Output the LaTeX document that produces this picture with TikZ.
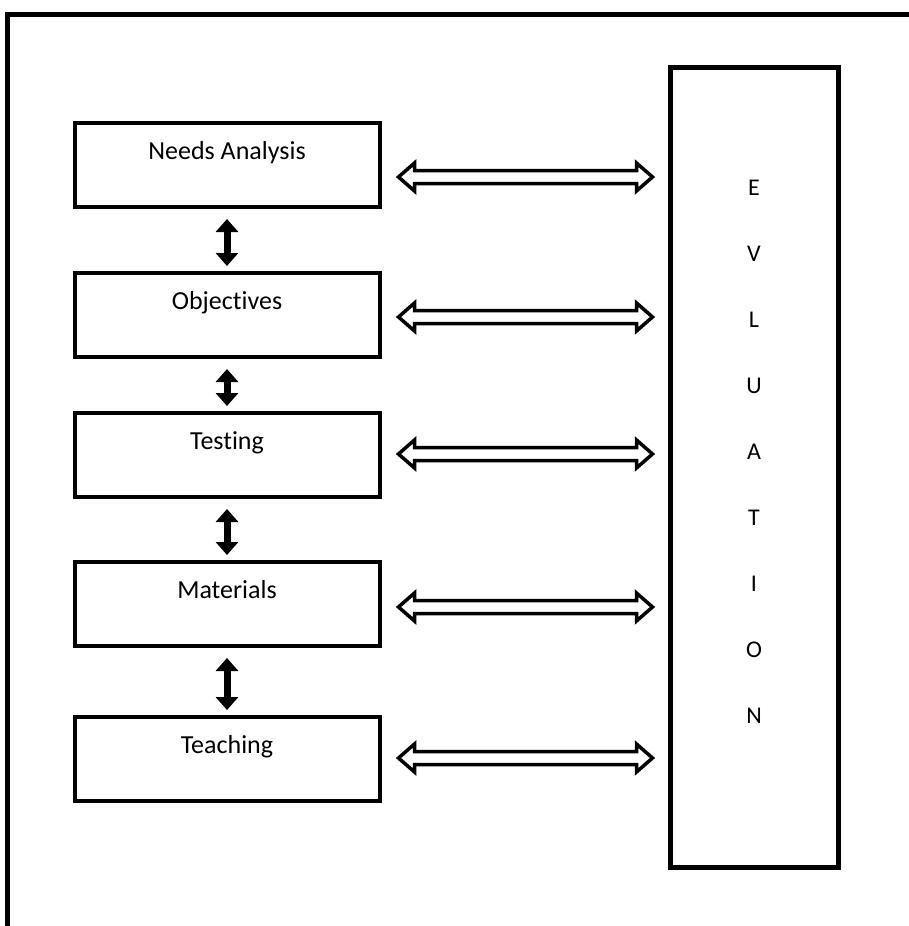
\documentclass[tikz,border=0pt]{standalone}
\usepackage{fontspec}
\setmainfont[Ligatures=NoCommon]{Carlito}
\usetikzlibrary{arrows.meta,calc}
\tikzset{
  stage/.style={draw, line width=4pt, minimum width=305pt, inner sep=0pt,
    text height=36pt, text depth=48pt, font=\fontsize{26}{30}\selectfont},
  evalbox/.style={draw, line width=5pt, minimum width=168pt, minimum height=800pt},
  letter/.style={font=\fontsize{24}{28}\selectfont},
  link/.style={line width=3.5pt, line join=miter},
  flow/.style={line width=7pt,
    {Triangle[width=22pt,length=13pt]}-{Triangle[width=22pt,length=13pt]},
    shorten <=10pt, shorten >=5pt},
}
\begin{document}
\begin{tikzpicture}[x=1pt, y=-1pt]
    \useasboundingbox (0,0) rectangle (909,926);
    \clip (0,0) rectangle (909,926);
    \draw [line width=5pt] (7,960) |- (960,14);
    \node [stage, anchor=base] (needs) at (227,159) {Needs Analysis};
    \node [stage, anchor=base] (obj) at (227,309) {Objectives};
    \node [stage, anchor=base] (test) at (227,449) {Testing};
    \node [stage, anchor=base] (mat) at (227,598) {Materials};
    \node [stage, anchor=base] (teach) at (227,753) {Teaching};
    \node [evalbox] (eval) at (754,467) {};
    \foreach \ch [count=\i] in {E,V,L,U,A,T,I,O,N}
        \node [letter] (ev\i) at (754,{188+66*(\i-1)}) {\ch};
    \draw [flow] (needs) -- (obj);
    \draw [flow] (obj) -- (test);
    \draw [flow] (test) -- (mat);
    \draw [flow] (mat) -- (teach);
    \foreach \b/\dy in {needs/12, obj/2, test/-1, mat/3, teach/-1} {
        \coordinate (l-\b) at ([xshift=17pt, yshift=-\dy pt]\b.east);
        \coordinate (r-\b) at ([xshift=-15pt]l-\b -| eval.west);
        \draw [link] (l-\b) -- ++(16,-14) -- ++(0,7.5) -- ($(r-\b)+(-16,-6.5)$)
            -- ++(0,-7.5) -- (r-\b) -- ++(-16,14) -- ++(0,-7.5)
            -- ($(l-\b)+(16,6.5)$) -- ++(0,7.5) -- cycle;
    }
\end{tikzpicture}
\end{document}
